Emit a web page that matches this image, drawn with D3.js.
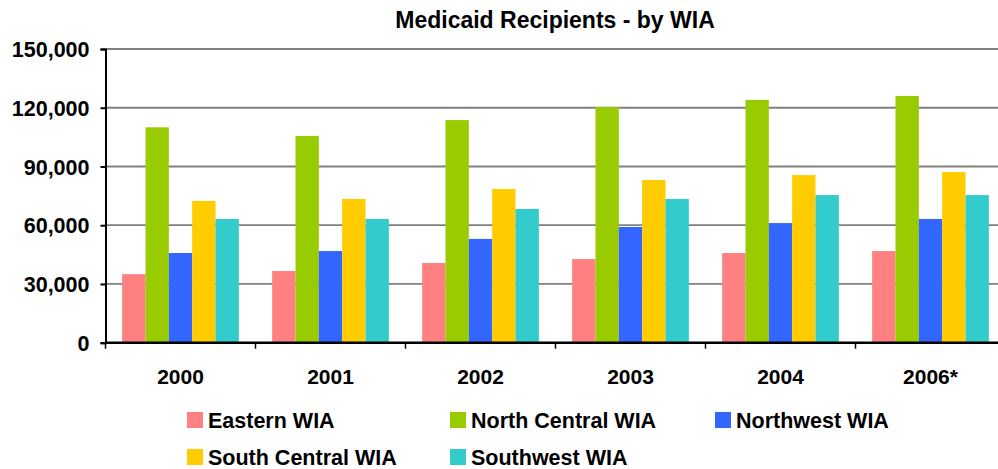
<!DOCTYPE html>
<html>
<head>
<meta charset="utf-8">
<script src="https://cdn.jsdelivr.net/npm/d3@7"></script>
<style>
  body { margin: 0; background: #fff; }
  svg { display: block; font-family: "Liberation Sans", Arial, Helvetica, sans-serif; font-weight: bold; }
</style>
</head>
<body>
<div id="chart"></div>
<script>
var years = ["2000", "2001", "2002", "2003", "2004", "2006*"];
var seriesNames = ["Eastern WIA", "North Central WIA", "Northwest WIA", "South Central WIA", "Southwest WIA"];
var seriesColors = ["#ff8080", "#99cc00", "#3366ff", "#ffcc00", "#33cccc"];

var eastern      = [35000, 36600, 40700, 42700, 45800, 46800];
var northCentral = [110000, 105600, 113700, 120400, 124000, 126000];
var northwest    = [45800, 46800, 53000, 59100, 61100, 63200];
var southCentral = [72400, 73400, 78500, 83100, 85600, 87200];
var southwest    = [63200, 63200, 68300, 73400, 75400, 75400];

var yTicks = [0, 30000, 60000, 90000, 120000, 150000];

var seriesValues = [eastern, northCentral, northwest, southCentral, southwest];

var data = years.map(function(y, i) {
    return { year: y, values: seriesValues.map(function(s, j) { return { name: seriesNames[j], value: s[i] }; }) };
});

var width = 998, height = 469;
var margin = {top: 49, left: 105.5, bottom: 342.7, right: 1005.5};

var svg = d3.select("#chart").append("svg")
    .attr("width", width)
    .attr("height", height);

var x0 = d3.scaleBand()
    .domain(years)
    .range([margin.left, margin.right])
    .paddingInner(0.2222)
    .paddingOuter(0.1111);

var x1 = d3.scaleBand()
    .domain(seriesNames)
    .range([0, x0.bandwidth()]);

var y = d3.scaleLinear()
    .domain([0, 150000])
    .range([margin.bottom, margin.top]);

var color = d3.scaleOrdinal().domain(seriesNames).range(seriesColors);

// title
svg.append("text")
    .attr("x", 555)
    .attr("y", 28)
    .attr("text-anchor", "middle")
    .style("font-size", "23px")
    .text("Medicaid Recipients - by WIA");

// gridlines
svg.append("g")
    .selectAll("line")
    .data(yTicks.filter(function(d) { return d > 0; }))
    .enter().append("line")
    .attr("x1", margin.left)
    .attr("x2", margin.right)
    .attr("y1", function(d) { return y(d); })
    .attr("y2", function(d) { return y(d); })
    .attr("stroke", "#808080")
    .attr("stroke-width", 1.8);

// bars
svg.append("g")
    .selectAll("g")
    .data(data)
    .enter().append("g")
    .attr("transform", function(d) { return "translate(" + x0(d.year) + ",0)"; })
    .selectAll("rect")
    .data(function(d) { return d.values; })
    .enter().append("rect")
    .attr("x", function(d) { return x1(d.name); })
    .attr("width", x1.bandwidth())
    .attr("y", function(d) { return y(d.value); })
    .attr("height", function(d) { return y(0) - y(d.value); })
    .attr("fill", function(d) { return color(d.name); });

// y axis
var yAxis = svg.append("g")
    .attr("transform", "translate(" + margin.left + ",0)")
    .call(d3.axisLeft(y).tickValues(yTicks).tickFormat(d3.format(",")).tickSize(5).tickPadding(11));
yAxis.select(".domain").attr("stroke", "#000").attr("stroke-width", 2);
yAxis.selectAll(".tick line").attr("stroke", "#000").attr("stroke-width", 2);
yAxis.selectAll(".tick text")
    .attr("fill", "#000")
    .style("font-size", "21.5px")
    .style("font-family", "'Liberation Sans', Arial, sans-serif")
    .style("font-weight", "bold")
    .attr("dy", "0.36em");

// x axis
var xAxis = svg.append("g")
    .attr("transform", "translate(0," + margin.bottom + ")");
xAxis.append("line")
    .attr("x1", margin.left)
    .attr("x2", margin.right)
    .attr("stroke", "#000")
    .attr("stroke-width", 2.5);
xAxis.selectAll(".sep")
    .data(years)
    .enter().append("line")
    .attr("class", "sep")
    .attr("x1", function(d) { return x0(d) - x0.step() * x0.paddingOuter(); })
    .attr("x2", function(d) { return x0(d) - x0.step() * x0.paddingOuter(); })
    .attr("y1", 0)
    .attr("y2", 6)
    .attr("stroke", "#000")
    .attr("stroke-width", 1.5);
xAxis.selectAll(".lbl")
    .data(years)
    .enter().append("text")
    .attr("class", "lbl")
    .attr("x", function(d) { return x0(d) + x0.bandwidth() / 2; })
    .attr("y", 41.5)
    .attr("text-anchor", "middle")
    .style("font-size", "21px")
    .text(function(d) { return d; });

// legend
var legendPos = [[187, 412], [450, 412], [715, 412], [187, 449], [450, 449]];
var legend = svg.append("g")
    .selectAll("g")
    .data(seriesNames)
    .enter().append("g")
    .attr("transform", function(d, i) { return "translate(" + legendPos[i][0] + "," + legendPos[i][1] + ")"; });
legend.append("rect")
    .attr("width", 16)
    .attr("height", 16)
    .attr("fill", function(d) { return color(d); });
legend.append("text")
    .attr("x", 21)
    .attr("y", 15.5)
    .style("font-size", "21.5px")
    .text(function(d) { return d; });
</script>
</body>
</html>
